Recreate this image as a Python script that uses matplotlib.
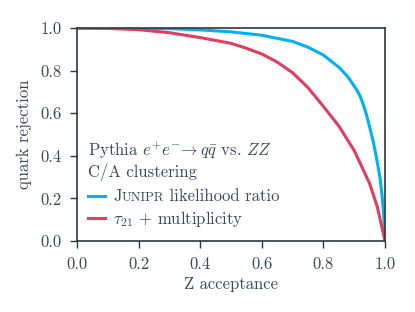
import numpy as np
import matplotlib
matplotlib.use("Agg")
import matplotlib.pyplot as plt

# --[Curve values]-------------------------------------------------------------
junipr_x = [0.0, 0.3, 0.4, 0.5, 0.6, 0.7, 0.75, 0.8, 0.85, 0.88, 0.91, 0.92, 0.93,
            0.94, 0.95, 0.962, 0.975, 0.984, 0.99, 0.995, 1.0]
junipr_y = [1.0, 0.997, 0.991, 0.982, 0.966, 0.937, 0.91, 0.873, 0.816, 0.77, 0.705, 0.678, 0.638,
            0.592, 0.535, 0.466, 0.37, 0.294, 0.22, 0.138, 0.0]

tau_x = [0.0, 0.1, 0.2, 0.3, 0.4, 0.5, 0.55, 0.6, 0.65, 0.7, 0.75, 0.8,
         0.85, 0.9, 0.95, 0.975, 1.0]
tau_y = [1.0, 0.998, 0.992, 0.978, 0.955, 0.928, 0.905, 0.878, 0.84, 0.79, 0.72, 0.632,
         0.54, 0.425, 0.27, 0.16, 0.0]

ticks = [0.0, 0.2, 0.4, 0.6, 0.8, 1.0]

# --[Style]---------------------------------------------------------------------
text_col = '#3b4856'
axis_col = '#2b3744'
plt.rcParams['font.family'] = 'serif'
plt.rcParams['font.serif'] = ['cmr10', 'DejaVu Serif']
plt.rcParams['mathtext.fontset'] = 'cm'
plt.rcParams['axes.formatter.use_mathtext'] = True
plt.rcParams['font.size'] = 12

fig = plt.figure(figsize=(4.15, 3.12), dpi=100)
ax = fig.add_axes([77 / 415, 1 - 241 / 312, 308 / 415, 213 / 312])

ax.plot(junipr_x, junipr_y, color='#00b2f2', lw=2.2, label='J', solid_joinstyle='round')
ax.plot(tau_x, tau_y, color='#e13d5e', lw=2.2, label=r'$\tau_{21}$ + multiplicity',
        solid_joinstyle='round')

ax.set_xlim(0, 1)
ax.set_ylim(0, 1)
ax.set_xticks(ticks)
ax.set_yticks(ticks)
ax.set_xticklabels(['%.1f' % t for t in ticks])
ax.set_yticklabels(['%.1f' % t for t in ticks])
ax.set_xlabel('Z acceptance', color=text_col, fontsize=12, labelpad=4)
ax.set_ylabel('quark rejection', color=text_col, fontsize=12, labelpad=6)
ax.tick_params(colors=axis_col, labelcolor=text_col, length=5, width=1, labelsize=12, pad=6)
for s in ax.spines.values():
    s.set_color(axis_col)
    s.set_linewidth(1.2)

# --[Legend and annotation]------------------------------------------------------
ax.text(0.036, 0.427, 'Pythia $e^{+}e^{-}\\!\\rightarrow q\\bar{q}$ vs. $ZZ$',
        transform=ax.transAxes, va='center', ha='left', color=text_col, fontsize=12)
ax.text(0.036, 0.324, 'C/A clustering', transform=ax.transAxes, va='center', ha='left',
        color=text_col, fontsize=12)

leg = ax.legend(loc='lower left', bbox_to_anchor=(0.036, 0.058), frameon=False,
                fontsize=12, handlelength=1.0, handletextpad=0.5,
                labelspacing=0.25, borderaxespad=0.0, borderpad=0.0)
for t in leg.get_texts():
    t.set_color(text_col)

# small caps for JUNIPR
fig.canvas.draw()
jt = leg.get_texts()[0]
a1 = ax.annotate('UNIPR', xy=(1, 0), xycoords=jt, va='bottom', ha='left',
                 fontsize=9.3, color=text_col, zorder=6, annotation_clip=False)
a2 = ax.annotate(' likelihood ratio', xy=(1, 0), xycoords=a1, va='bottom', ha='left',
                 fontsize=12, color=text_col, zorder=7, annotation_clip=False)

fig.savefig('out.png', dpi=100)
